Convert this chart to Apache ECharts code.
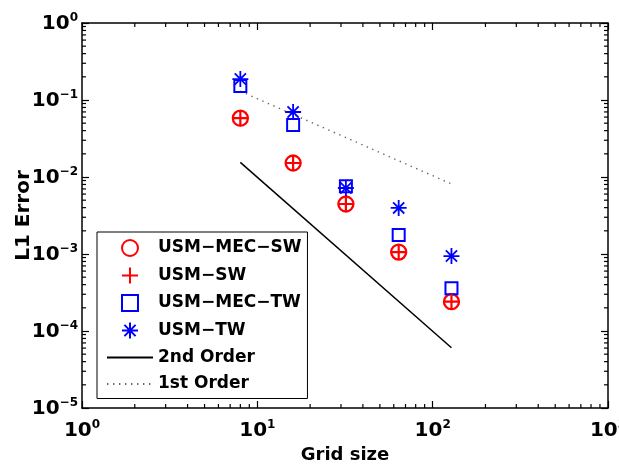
<!DOCTYPE html>
<html><head><meta charset="utf-8">
<script src="https://cdn.jsdelivr.net/npm/echarts@6/dist/echarts.min.js"></script>
<style>html,body{margin:0;padding:0;background:#fff}#c{width:619px;height:464px}</style>
</head><body><div id="c"></div>
<script>
// ---- data ----
const gridSizes = [8, 16, 32, 64, 128];
const usmMecSw = [0.058, 0.0152, 0.00446, 0.00106, 0.00024];
const usmSw    = [0.058, 0.0152, 0.00446, 0.00106, 0.00024];
const usmMecTw = [0.152, 0.0473, 0.0076, 0.00177, 0.00036];
const usmTw    = [0.187, 0.0698, 0.0072, 0.00397, 0.00094];
const order2X = [8, 128];
const order2Y = [0.0155, 0.0000605];
const order1X = [8, 128];
const order1Y = [0.13, 0.008125];
const seriesNames = ['USM\u2212MEC\u2212SW', 'USM\u2212SW', 'USM\u2212MEC\u2212TW', 'USM\u2212TW', '2nd Order', '1st Order'];
const xAxisRange = [1, 1000];
const yAxisRange = [1e-5, 1];
const minorMultipliers = [2, 3, 4, 5, 6, 7, 8, 9];

const FONT = 'DejaVu Sans';
const zip = (xs, ys) => xs.map((x, i) => [x, ys[i]]);
const minorValues = range => {
  const out = [];
  for (let d = range[0]; d < range[1] * 0.999; d *= 10) minorMultipliers.forEach(m => out.push(d * m));
  return out;
};
const expLabel = v => {
  const e = Math.round(Math.log10(v));
  return '{b|10}{s|' + (e < 0 ? '\u2212' + (-e) : e) + '}';
};
const richLbl = {
  b: { fontFamily: FONT, fontWeight: 'bold', fontSize: 20, lineHeight: 22, padding: [7, 0, 5, 0], color: '#000' },
  s: { fontFamily: FONT, fontWeight: 'bold', fontSize: 12, lineHeight: 12, verticalAlign: 'top', color: '#000' }
};
const axisCommon = {
  type: 'log', logBase: 10,
  axisLine: { show: true, lineStyle: { color: '#000', width: 1.5 } },
  axisTick: { show: true, inside: true, length: 7, lineStyle: { color: '#000', width: 1.2 } },
  minorTick: { show: false },
  splitLine: { show: false },
  minorSplitLine: { show: false }
};
const MINOR_LEN = 4;

const chart = echarts.init(document.getElementById('c'), null, { renderer: 'canvas' });
chart.setOption({
  animation: false,
  backgroundColor: '#fff',
  grid: { left: 82, right: 11, top: 23, bottom: 56, containLabel: false, outerBoundsMode: 'none' },
  xAxis: [
    Object.assign({}, axisCommon, {
      min: xAxisRange[0], max: xAxisRange[1], position: 'bottom',
      name: 'Grid size', nameLocation: 'middle', nameGap: 38, nameMoveOverlap: false,
      nameTextStyle: { fontFamily: FONT, fontWeight: 'bold', fontSize: 18, color: '#000' },
      axisLabel: { margin: 11, formatter: expLabel, rich: richLbl }
    }),
    Object.assign({}, axisCommon, {
      min: xAxisRange[0], max: xAxisRange[1], position: 'top', axisLabel: { show: false }
    })
  ],
  yAxis: [
    Object.assign({}, axisCommon, {
      min: yAxisRange[0], max: yAxisRange[1], position: 'left',
      name: 'L1 Error', nameLocation: 'middle', nameGap: 48, nameMoveOverlap: false,
      nameTextStyle: { fontFamily: FONT, fontWeight: 'bold', fontSize: 20, color: '#000' },
      axisLabel: { margin: 4, formatter: expLabel, rich: richLbl }
    }),
    Object.assign({}, axisCommon, {
      min: yAxisRange[0], max: yAxisRange[1], position: 'right', axisLabel: { show: false }
    })
  ],
  legend: {
    data: [
      seriesNames[0], seriesNames[1], seriesNames[2], seriesNames[3],
      { name: seriesNames[4], itemStyle: { opacity: 0 } },
      { name: seriesNames[5], itemStyle: { opacity: 0 } }
    ],
    orient: 'vertical',
    left: 97, top: 232,
    padding: [7, 6, 6, 9],
    borderColor: '#000', borderWidth: 1,
    backgroundColor: '#fff',
    itemWidth: 46, itemHeight: 16, itemGap: 9.5,
    selectedMode: false,
    textStyle: { fontFamily: FONT, fontWeight: 'bold', fontSize: 17, color: '#000' }
  },
  series: [
    { name: 'xMinorTicks', type: 'custom', silent: true, clip: false, z: 1,
      data: minorValues(xAxisRange).map(v => [v, yAxisRange[0]]),
      renderItem: (params, api) => {
        const v = api.value(0);
        const b = api.coord([v, yAxisRange[0]]);
        const t = api.coord([v, yAxisRange[1]]);
        const st = { stroke: '#000', lineWidth: 1.2 };
        return { type: 'group', children: [
          { type: 'line', shape: { x1: b[0], y1: b[1], x2: b[0], y2: b[1] - MINOR_LEN }, style: st },
          { type: 'line', shape: { x1: t[0], y1: t[1], x2: t[0], y2: t[1] + MINOR_LEN }, style: st }
        ] };
      } },
    { name: 'yMinorTicks', type: 'custom', silent: true, clip: false, z: 1,
      data: minorValues(yAxisRange).map(v => [xAxisRange[0], v]),
      renderItem: (params, api) => {
        const v = api.value(1);
        const l = api.coord([xAxisRange[0], v]);
        const r = api.coord([xAxisRange[1], v]);
        const st = { stroke: '#000', lineWidth: 1.2 };
        return { type: 'group', children: [
          { type: 'line', shape: { x1: l[0], y1: l[1], x2: l[0] + MINOR_LEN, y2: l[1] }, style: st },
          { type: 'line', shape: { x1: r[0], y1: r[1], x2: r[0] - MINOR_LEN, y2: r[1] }, style: st }
        ] };
      } },
    { name: seriesNames[4], type: 'line', data: zip(order2X, order2Y), symbol: 'none', z: 2,
      color: '#000', lineStyle: { color: '#000', width: 1.5 } },
    { name: seriesNames[5], type: 'line', data: zip(order1X, order1Y), symbol: 'none', z: 2,
      color: '#666', lineStyle: { color: '#666', width: 1.4, type: [1.4, 4.6] } },
    { name: seriesNames[0], type: 'scatter', data: zip(gridSizes, usmMecSw), symbol: 'circle', symbolSize: 15, z: 3,
      color: 'red', itemStyle: { color: 'rgba(0,0,0,0)', borderColor: '#f00', borderWidth: 2.3, opacity: 1 } },
    { name: seriesNames[1], type: 'scatter', data: zip(gridSizes, usmSw), symbol: 'path://M0,-10L0,10M-10,0L10,0', symbolSize: 16, z: 4,
      color: 'red', itemStyle: { color: 'rgba(0,0,0,0)', borderColor: '#f00', borderWidth: 2.2, opacity: 1 } },
    { name: seriesNames[2], type: 'scatter', data: zip(gridSizes, usmMecTw), symbol: 'path://M0,0L10,0L10,10L0,10Z', symbolSize: 12, z: 3,
      color: 'blue', itemStyle: { color: 'rgba(0,0,0,0)', borderColor: '#00f', borderWidth: 2, opacity: 1 } },
    { name: seriesNames[3], type: 'scatter', data: zip(gridSizes, usmTw), symbol: 'path://M0,-10L0,10M-10,0L10,0M-7,-7L7,7M-7,7L7,-7', symbolSize: 16, z: 4,
      color: 'blue', itemStyle: { color: 'rgba(0,0,0,0)', borderColor: '#00f', borderWidth: 1.8, opacity: 1 } }
  ]
});
</script></body></html>
